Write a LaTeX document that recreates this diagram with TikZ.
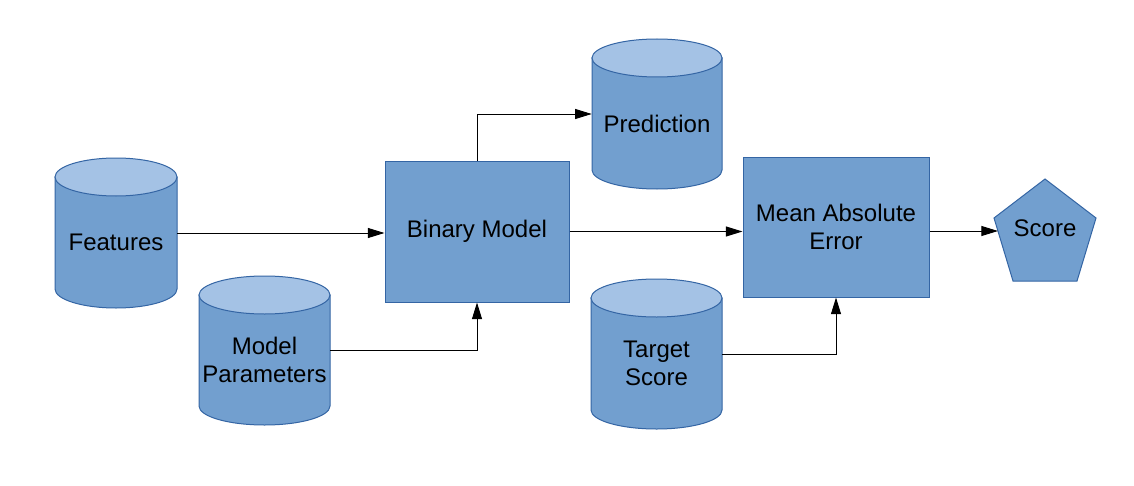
\documentclass[tikz,border=0pt]{standalone}
\usepackage{fontspec}
\setmainfont{Liberation Sans}
\usetikzlibrary{arrows.meta}
\definecolor{cylbody}{HTML}{729FCF}
\definecolor{cyltop}{HTML}{A4C2E5}
\definecolor{edgeblue}{HTML}{3465A4}
\tikzset{
  shapeline/.style={draw=edgeblue, line width=0.75pt},
  boxnode/.style={shapeline, fill=cylbody, inner sep=0pt, align=center},
  lbl/.style={inner sep=0pt, align=center, font=\fontsize{18pt}{20.5pt}\selectfont},
  arr/.style={draw=black, line width=0.75pt, -{Triangle[length=12.5pt,width=7.5pt]}}
}
\newcommand\mycyl[7]{% name, cx, ytop, ybot, rx, ry, text
  \pgfmathsetmacro\myyt{-(#3+#6)}
  \pgfmathsetmacro\myyb{-(#4-#6)}
  \pgfmathsetmacro\myxl{#2-#5}
  \pgfmathsetmacro\myxr{#2+#5}
  \pgfmathsetmacro\mycy{-(#3+#4)/2}
  \pgfmathsetmacro\myty{-((#3+#6)+#4)/2}
  \pgfmathsetmacro\myw{2*#5*0.75}
  \pgfmathsetmacro\myh{(#4-#3)*0.75}
  \draw[shapeline, fill=cylbody] (\myxl,\myyt) -- (\myxl,\myyb)
     arc[start angle=180, end angle=360, x radius=#5, y radius=#6] -- (\myxr,\myyt) -- cycle;
  \draw[shapeline, fill=cyltop] (#2,\myyt) ellipse[x radius=#5, y radius=#6];
  \node[draw=none, inner sep=0pt, minimum width=\myw pt, minimum height=\myh pt] (#1) at (#2,\mycy) {};
  \node[lbl] (#1-t) at (#2,\myty) {#7};
}
\begin{document}
\begin{tikzpicture}[x=0.75pt, y=0.75pt]
\useasboundingbox (0,0) rectangle (1134,-485);
\fill[white] (0,0) rectangle (1134,-485);

\mycyl{feat}{116}{158}{308}{61}{19}{Features}
\mycyl{mpar}{264.5}{276}{425}{65.5}{19}{Model\\Parameters}
\mycyl{pred}{657}{39}{189}{65}{19}{Prediction}
\mycyl{targ}{656.5}{279}{429}{65.5}{19}{Target\\Score}

\node[boxnode, minimum width=138pt, minimum height=105.75pt, lbl] (bin) at (477,-231.5) {Binary Model};
\node[boxnode, minimum width=139.5pt, minimum height=105pt, lbl, font=\fontsize{18pt}{21pt}\selectfont] (mae) at (836,-227) {Mean Absolute\\Error};

\draw[shapeline, fill=cylbody] (1045,-179) -- (1096,-218) -- (1077,-281) -- (1013,-281) -- (994,-218) -- cycle;
\node[lbl] (score) at (1045,-228) {Score};
\coordinate (scorein) at (998,-231);

\draw[arr] (feat.east) -- (feat.east -| bin.west);
\draw[arr] (mpar.east) -- (mpar.east -| bin.south) -- (bin.south);
\draw[arr] (bin.north) -- (bin.north |- pred.west) -- (pred.west);
\draw[arr] (bin.east) -- (bin.east -| mae.west);
\draw[arr] (targ.east) -- (targ.east -| mae.south) -- (mae.south);
\draw[arr] (mae.east |- scorein) -- (scorein);
\end{tikzpicture}
\end{document}
